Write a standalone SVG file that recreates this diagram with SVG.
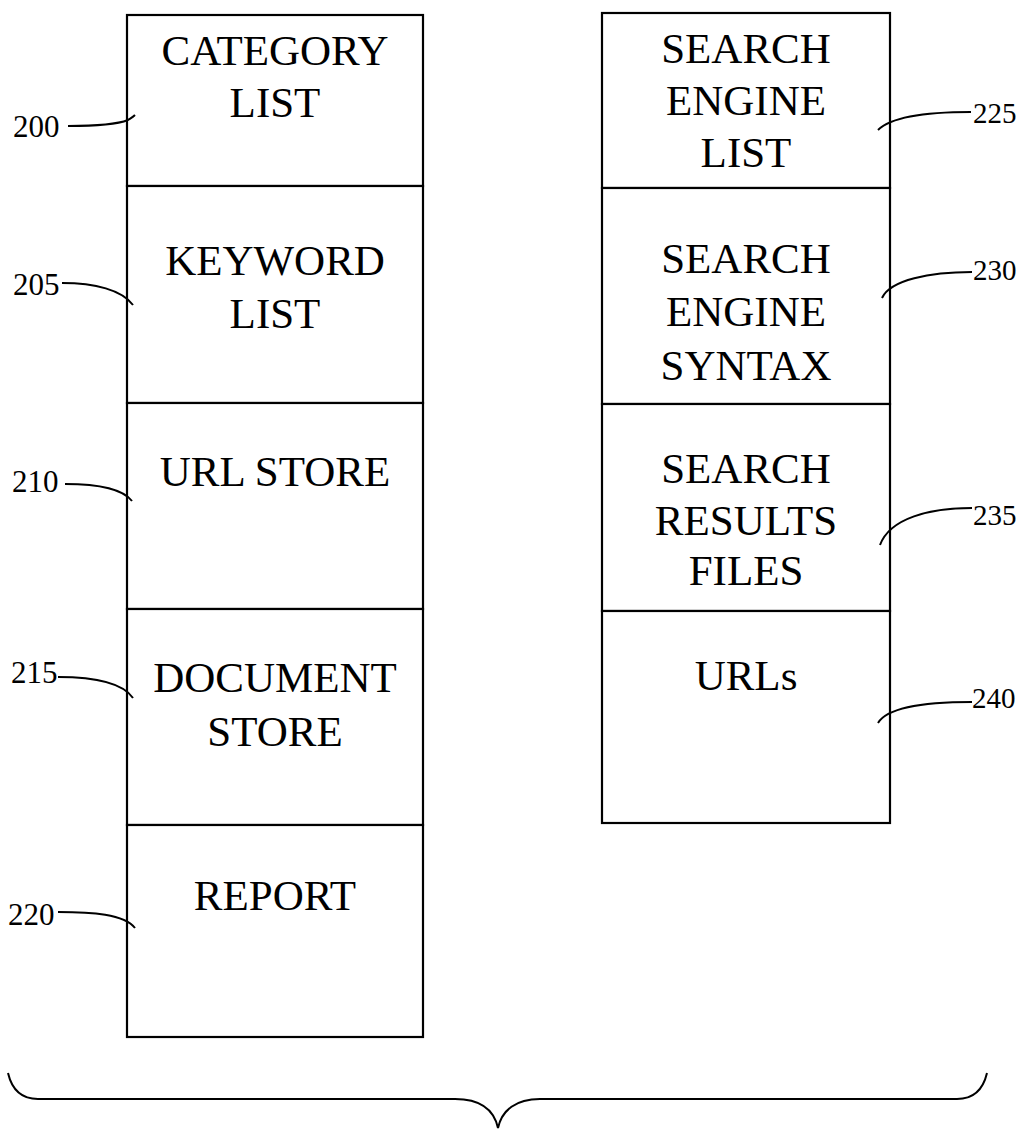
<svg xmlns="http://www.w3.org/2000/svg" width="1023" height="1129" viewBox="0 0 1023 1129">
<style>
.box{fill:#fff;stroke:#000;stroke-width:2.2}
.t{font-family:'Liberation Serif','DejaVu Serif',serif;font-size:43px;fill:#000;text-anchor:middle}
.lbl{font-family:'Liberation Serif','DejaVu Serif',serif;font-size:31px;fill:#000}
.lblr{font-family:'Liberation Serif','DejaVu Serif',serif;font-size:29px;fill:#000}
.ld{fill:none;stroke:#000;stroke-width:2}
</style>
<rect width="1023" height="1129" fill="#fff"/>
<g id="n200"><rect class="box" x="127" y="15" width="296" height="171"/><text class="t" x="275" y="65">CATEGORY</text><text class="t" x="275" y="117">LIST</text><text class="lbl" x="13" y="137">200</text></g>
<g id="n205"><rect class="box" x="127" y="186" width="296" height="217"/><text class="t" x="275" y="275">KEYWORD</text><text class="t" x="275" y="328">LIST</text><text class="lbl" x="13" y="295">205</text></g>
<g id="n210"><rect class="box" x="127" y="403" width="296" height="206"/><text class="t" x="275" y="486">URL STORE</text><text class="lbl" x="12" y="492">210</text></g>
<g id="n215"><rect class="box" x="127" y="609" width="296" height="216"/><text class="t" x="275" y="692">DOCUMENT</text><text class="t" x="275" y="746">STORE</text><text class="lbl" x="11" y="683">215</text></g>
<g id="n220"><rect class="box" x="127" y="825" width="296" height="212"/><text class="t" x="275" y="910">REPORT</text><text class="lbl" x="8" y="925">220</text></g>
<g id="n225"><rect class="box" x="602" y="13" width="288" height="175"/><text class="t" x="746" y="63">SEARCH</text><text class="t" x="746" y="115">ENGINE</text><text class="t" x="746" y="167">LIST</text><text class="lblr" x="973" y="123">225</text></g>
<g id="n230"><rect class="box" x="602" y="188" width="288" height="216"/><text class="t" x="746" y="273">SEARCH</text><text class="t" x="746" y="326">ENGINE</text><text class="t" x="746" y="380">SYNTAX</text><text class="lblr" x="973" y="280">230</text></g>
<g id="n235"><rect class="box" x="602" y="404" width="288" height="207"/><text class="t" x="746" y="483">SEARCH</text><text class="t" x="746" y="535">RESULTS</text><text class="t" x="746" y="585">FILES</text><text class="lblr" x="973" y="525">235</text></g>
<g id="n240"><rect class="box" x="602" y="611" width="288" height="212"/><text class="t" x="746" y="690">URLs</text><text class="lblr" x="972" y="708">240</text></g>
<g id="connectors">
<path class="ld" d="M68,126 C95,126 118,124 128,120 C131,118 133,117 135,115"/>
<path class="ld" d="M62,283 C95,283 122,290 133,305"/>
<path class="ld" d="M65,484 C95,484 122,488 132,501"/>
<path class="ld" d="M58,677 C92,677 122,682 133,698"/>
<path class="ld" d="M58,912 C92,912 124,914 135,928"/>
<path class="ld" d="M971,112 C930,112 892,116 878,130"/>
<path class="ld" d="M972,272 C930,272 890,280 882,298"/>
<path class="ld" d="M972,508 C930,508 890,518 880,545"/>
<path class="ld" d="M972,702 C930,702 888,706 878,723"/>
<path class="ld" stroke-width="2.4" d="M8,1073 C12,1090 22,1099 38,1099 L455,1099 C480,1099 494,1110 498,1128 C502,1110 516,1099 540,1099 L957,1099 C973,1099 983,1090 987,1073"/>
</g>
</svg>
